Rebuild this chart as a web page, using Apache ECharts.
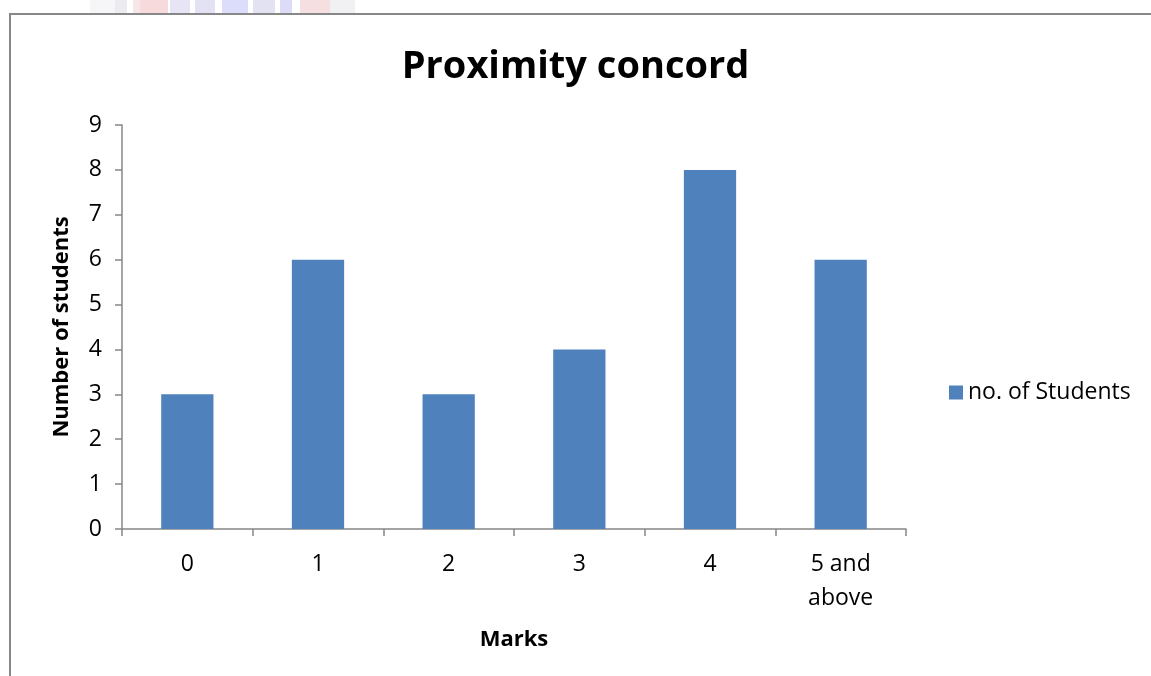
<!DOCTYPE html>
<html><head><meta charset="utf-8">
<script src="https://cdn.jsdelivr.net/npm/echarts@6/dist/echarts.min.js"></script>
<style>html,body{margin:0;padding:0;background:#fff}#c{width:1151px;height:676px}</style>
</head><body><div id="c"></div>
<script>
const categories = ['0', '1', '2', '3', '4', '5 and\nabove'];
const students = [3, 6, 3, 4, 8, 6];
const seriesName = 'no. of Students';
const titleText = 'Proximity concord';
const yName = 'Number of students';
const xName = 'Marks';

const FONT = 'Open Sans';
const chart = echarts.init(document.getElementById('c'), null, {renderer: 'canvas'});
const wm = [
  [90, 25, '#f6f6f8'], [115, 12, '#ececf0'], [133, 8, '#f7e6e6'], [140, 28, '#f7dadc'],
  [170, 20, '#e6e4f5'], [195, 20, '#e2e2f4'], [222, 26, '#dcdcfb'], [253, 22, '#e2e2f3'],
  [280, 12, '#dcdcf8'], [300, 30, '#f5dfe0'], [330, 25, '#f1f1f3']
];
chart.setOption({
  animation: false,
  backgroundColor: '#fff',
  title: {
    text: titleText, left: 'center', top: 43,
    textStyle: {fontFamily: FONT, fontSize: 38, fontWeight: 'bold', color: '#000'}
  },
  legend: {
    data: [seriesName], orient: 'vertical', left: 944, top: 376,
    itemWidth: 14, itemHeight: 14, itemGap: 6,
    icon: 'rect',
    textStyle: {fontFamily: FONT, fontSize: 23, color: '#000'}
  },
  grid: {left: 122, top: 125, right: 245, bottom: 147, containLabel: false},
  xAxis: {
    type: 'category', data: categories,
    name: xName, nameLocation: 'middle', nameGap: 100,
    nameTextStyle: {fontFamily: FONT, fontSize: 22, fontWeight: 'bold', color: '#000'},
    axisLine: {lineStyle: {color: '#878787', width: 1.5}},
    axisTick: {show: true, length: 7, lineStyle: {color: '#878787', width: 1.5}},
    axisLabel: {fontFamily: FONT, fontSize: 23, color: '#000', margin: 18, lineHeight: 34}
  },
  yAxis: {
    type: 'value', min: 0, max: 9, interval: 1,
    name: yName, nameLocation: 'middle', nameGap: 49, nameRotate: 90,
    nameTextStyle: {fontFamily: FONT, fontSize: 22, fontWeight: 'bold', color: '#000'},
    axisLine: {show: true, lineStyle: {color: '#878787', width: 1.5}},
    axisTick: {show: true, length: 7, lineStyle: {color: '#878787', width: 1.5}},
    splitLine: {show: false},
    axisLabel: {fontFamily: FONT, fontSize: 23, color: '#000', margin: 20}
  },
  series: [{
    name: seriesName, type: 'bar', data: students,
    barCategoryGap: '60%',
    itemStyle: {color: '#4f81bd'}
  }],
  graphic: [
    ...wm.map(w => ({type: 'rect', shape: {x: w[0], y: 0, width: w[1], height: 13}, style: {fill: w[2]}, silent: true})),
    {type: 'polyline', shape: {points: [[10, 700], [10, 14], [1160, 14]]}, style: {stroke: '#888', lineWidth: 2, fill: null}, silent: true}
  ]
});
</script></body></html>
